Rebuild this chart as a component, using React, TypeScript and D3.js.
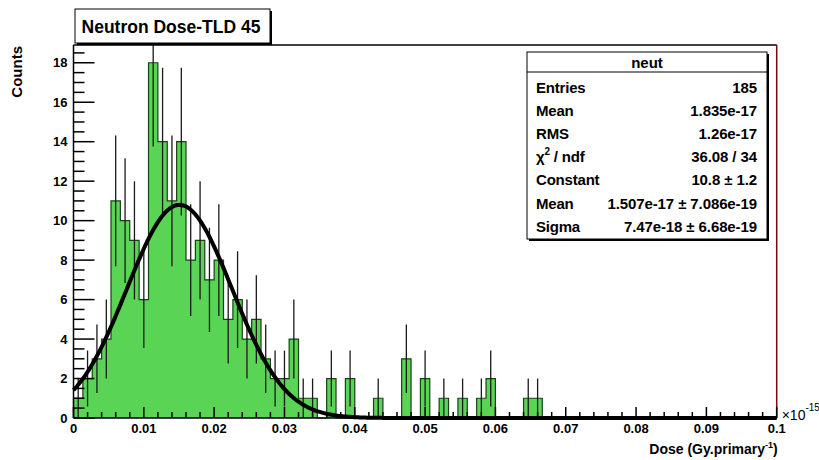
import * as d3 from "d3";

// histogram: 75 bins over [0, 0.1] (x 1e-15 Gy/primary)
const binCounts = [
  1, 2, 3, 4, 11, 10, 9, 6, 18, 14, 11, 14, 8, 9, 7, 8, 5, 6, 4, 5,
  3, 2, 2, 4, 1, 1, 0, 2, 0, 2, 0, 0, 1, 0, 0, 3, 0, 2, 0, 1,
  0, 1, 0, 1, 2, 0, 0, 0, 1, 1, 0, 0, 0, 0, 0, 0, 0, 0, 0, 0,
  0, 0, 0, 0, 0, 0, 0, 0, 0, 0, 0, 0, 0, 0, 0,
];
const xMin = 0;
const xMax = 0.1;
const yMax = 18.9;

// gaussian fit parameters
const fitConstant = 10.8;
const fitMean = 0.01507;
const fitSigma = 0.00747;

const xTickLabels = ["0", "0.01", "0.02", "0.03", "0.04", "0.05", "0.06", "0.07", "0.08", "0.09", "0.1"];
const yTickLabels = ["0", "2", "4", "6", "8", "10", "12", "14", "16", "18"];

const statLabels = ["Entries", "Mean", "RMS", "chi", "Constant", "Mean", "Sigma"];
const statValues = ["185", "1.835e-17", "1.26e-17", "36.08 / 34", "10.8 \u00b1 1.2", "1.507e-17 \u00b1 7.086e-19", "7.47e-18 \u00b1 6.68e-19"];

const W = 819;
const H = 460;
const frame = { left: 73.5, right: 776.7, top: 45, bottom: 418 };
const font = "'Liberation Sans', Arial, sans-serif";

export default function App() {
  const x = d3.scaleLinear().domain([xMin, xMax]).range([frame.left, frame.right]);
  const y = d3.scaleLinear().domain([0, yMax]).range([frame.bottom, frame.top]);
  const nBins = binCounts.length;
  const bw = (xMax - xMin) / nBins;

  // step outline
  let step = `M${x(xMin)},${y(0)}`;
  binCounts.forEach((c, i) => {
    step += `L${x(xMin + i * bw)},${y(c)}L${x(xMin + (i + 1) * bw)},${y(c)}`;
  });
  step += `L${x(xMax)},${y(0)}`;

  const gauss = (v: number) =>
    fitConstant * Math.exp(-0.5 * ((v - fitMean) / fitSigma) ** 2);
  const fitPts = d3.range(0, 401).map((i) => xMin + ((xMax - xMin) * i) / 400);
  const fitPath = d3
    .line<number>()
    .x((v) => x(v))
    .y((v) => y(gauss(v)))(fitPts);

  const yMajor = yTickLabels.map(Number);
  const yMinor = d3.range(0, yMax, 0.5).filter((v) => v % 2 !== 0);
  const xMajor = xTickLabels.map(Number);
  const xMinor = d3.range(0, 51).map((i) => i * 0.002).filter((_, i) => i % 5 !== 0);

  const statsBox = { x: 527, y: 52, w: 240, h: 187 };

  return (
    <svg
      width={W}
      height={H}
      style={{ position: "absolute", left: 0, top: 0, background: "#fff" }}
      fontFamily={font}
    >
      <defs>
        <clipPath id="frameClip">
          <rect x={frame.left} y={frame.top} width={frame.right - frame.left} height={frame.bottom - frame.top} />
        </clipPath>
      </defs>

      {/* histogram */}
      <path d={step} fill="#59d454" stroke="none" />
      <path d={step} fill="none" stroke="#1c3f1c" strokeWidth={1.2} />

      {/* error bars */}
      <g clipPath="url(#frameClip)">
        {binCounts.map((c, i) =>
          c > 0 ? (
            <line
              key={`err-${i}`}
              x1={x(xMin + (i + 0.5) * bw)}
              x2={x(xMin + (i + 0.5) * bw)}
              y1={y(c - Math.sqrt(c))}
              y2={y(c + Math.sqrt(c))}
              stroke="#1a1a1a"
              strokeWidth={1.3}
            />
          ) : null
        )}
      </g>

      {/* frame */}
      <line x1={frame.left} x2={frame.right} y1={frame.top} y2={frame.top} stroke="#000" strokeWidth={1.5} />
      <line x1={frame.right} x2={frame.right} y1={frame.top} y2={frame.bottom} stroke="#7a0a0a" strokeWidth={1.5} />
      <line x1={frame.left} x2={frame.left} y1={frame.top} y2={frame.bottom} stroke="#000" strokeWidth={1.5} />
      <line x1={frame.left} x2={frame.right} y1={frame.bottom} y2={frame.bottom} stroke="#000" strokeWidth={1.5} />

      {/* fit */}
      <path d={fitPath ?? ""} fill="none" stroke="#000" strokeWidth={4} strokeLinejoin="round" />

      {/* y axis */}
      {yMajor.map((v, i) => (
        <g key={`ym-${v}`}>
          <line x1={frame.left} x2={frame.left + 21} y1={y(v)} y2={y(v)} stroke="#000" strokeWidth={1.5} />
          <text x={frame.left - 6} y={y(v)} dy="0.35em" textAnchor="end" fontSize={13} fontWeight="bold">
            {yTickLabels[i]}
          </text>
        </g>
      ))}
      {yMinor.map((v) => (
        <line key={`yn-${v}`} x1={frame.left} x2={frame.left + 11} y1={y(v)} y2={y(v)} stroke="#000" strokeWidth={1.5} />
      ))}
      <text
        transform={`translate(22,${frame.top + 1}) rotate(-90)`}
        textAnchor="end"
        fontSize={15}
        fontWeight="bold"
      >
        Counts
      </text>

      {/* x axis */}
      {xMajor.map((v, i) => (
        <g key={`xm-${v}`}>
          <line x1={x(v)} x2={x(v)} y1={frame.bottom} y2={frame.bottom - 11} stroke="#000" strokeWidth={1.5} />
          <text x={x(v)} y={frame.bottom + 15} textAnchor="middle" fontSize={13} fontWeight="bold">
            {xTickLabels[i]}
          </text>
        </g>
      ))}
      {xMinor.map((v) => (
        <line key={`xn-${v}`} x1={x(v)} x2={x(v)} y1={frame.bottom} y2={frame.bottom - 6} stroke="#000" strokeWidth={1.5} />
      ))}
      <text x={frame.right + 5} y={frame.bottom + 2} fontSize={14}>
        {"\u00d710"}
        <tspan dy={-9} fontSize={10}>-15</tspan>
      </text>
      <text x={frame.right + 1} y={454} textAnchor="end" fontSize={14} fontWeight="bold">
        Dose (Gy.primary
        <tspan dy={-6} fontSize={9}>-1</tspan>
        <tspan dy={6}>)</tspan>
      </text>

      {/* title box */}
      <rect x={77} y={11} width={195} height={34} fill="#000" />
      <rect x={75} y={9} width={195} height={34} fill="#fff" stroke="#000" strokeWidth={1} />
      <text x={171} y={33} textAnchor="middle" fontSize={17.5} fontWeight="bold">
        Neutron Dose-TLD 45
      </text>

      {/* stats box */}
      <rect x={statsBox.x + 2} y={statsBox.y + 2} width={statsBox.w} height={statsBox.h} fill="#000" />
      <rect x={statsBox.x} y={statsBox.y} width={statsBox.w} height={statsBox.h} fill="#fff" stroke="#000" strokeWidth={1} />
      <line x1={statsBox.x} x2={statsBox.x + statsBox.w} y1={72} y2={72} stroke="#000" strokeWidth={1} />
      <text x={statsBox.x + statsBox.w / 2} y={68} textAnchor="middle" fontSize={15} fontWeight="bold">
        neut
      </text>
      {statLabels.map((lab, i) => {
        const yy = 93 + i * 23.1;
        return (
          <g key={`st-${i}`}>
            <text x={statsBox.x + 9} y={yy} fontSize={15} fontWeight="bold" letterSpacing={-0.2}>
              {lab === "chi" ? (
                <>
                  {"\u03c7"}
                  <tspan dy={-7} fontSize={10}>2</tspan>
                  <tspan dy={7}>{" / ndf"}</tspan>
                </>
              ) : (
                lab
              )}
            </text>
            <text x={statsBox.x + statsBox.w - 10} y={yy} textAnchor="end" fontSize={15} fontWeight="bold" letterSpacing={-0.1}>
              {statValues[i]}
            </text>
          </g>
        );
      })}
    </svg>
  );
}
